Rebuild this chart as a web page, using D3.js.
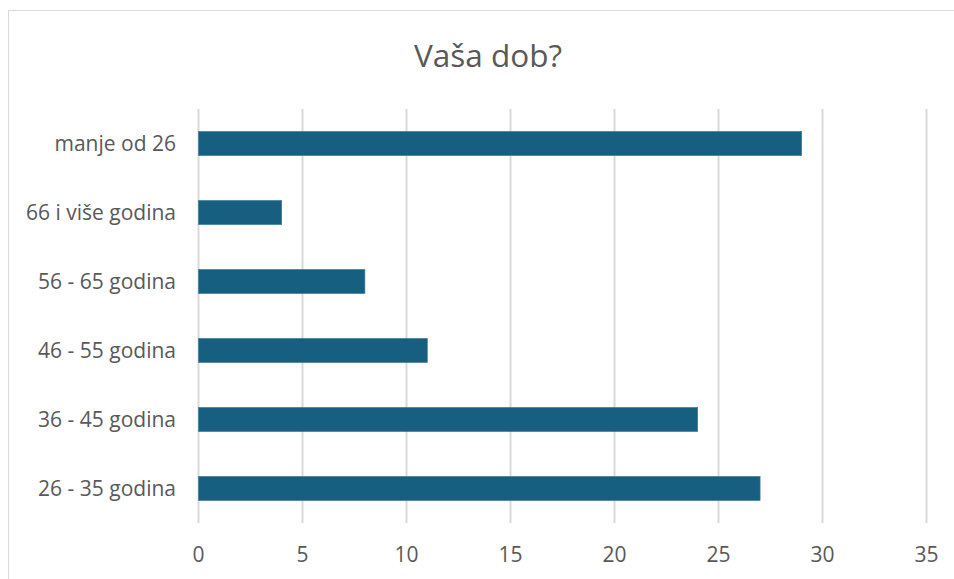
<!DOCTYPE html>
<html><head><meta charset="utf-8">
<script src="https://cdn.jsdelivr.net/npm/d3@7"></script>
<style>body{margin:0;background:#fff}svg{display:block}</style>
</head><body>
<script>
const categories = ["manje od 26","66 i više godina","56 - 65 godina","46 - 55 godina","36 - 45 godina","26 - 35 godina"];
const values = [29,4,8,11,24,27];
const xTicks = [0,5,10,15,20,25,30,35];
const title = "Vaša dob?";

const W=954,H=579;
const svg=d3.select("body").append("svg").attr("width",W).attr("height",H);
svg.append("rect").attr("x",8.5).attr("y",10.5).attr("width",W+10).attr("height",H+10)
  .attr("fill","#fff").attr("stroke","#d9d9d9").attr("stroke-width",1);
const font="'Open Sans', sans-serif";
const m={l:198.5,r:926.5,t:109,b:523};
const x=d3.scaleLinear().domain([0,35]).range([m.l,m.r]);
const y=d3.scaleBand().domain(categories).range([m.t,m.b]).paddingInner(0.65).paddingOuter(0.325);

svg.append("g").selectAll("line").data(xTicks).join("line")
  .attr("x1",d=>x(d)).attr("x2",d=>x(d)).attr("y1",m.t).attr("y2",m.b)
  .attr("stroke","#d9d9d9").attr("stroke-width",2);

svg.append("g").selectAll("rect").data(values).join("rect")
  .attr("x",x(0)).attr("y",(d,i)=>y(categories[i]))
  .attr("width",d=>x(d)-x(0)).attr("height",y.bandwidth())
  .attr("fill","#175f80").attr("stroke","#3d7a96").attr("stroke-width",0.6);

svg.append("g").selectAll("text").data(categories).join("text")
  .attr("x",176).attr("y",d=>y(d)+y.bandwidth()/2).attr("dy","0.35em")
  .attr("text-anchor","end").attr("fill","#595959").attr("font-family",font).attr("font-size",21)
  .text(d=>d);

svg.append("g").selectAll("text").data(xTicks).join("text")
  .attr("x",d=>x(d)).attr("y",555).attr("dy","0.35em")
  .attr("text-anchor","middle").attr("fill","#595959").attr("font-family",font).attr("font-size",21)
  .text(d=>d);

svg.append("text").attr("x",488).attr("y",56).attr("dy","0.35em").attr("text-anchor","middle")
  .attr("fill","#595959").attr("font-family",font).attr("font-size",31.5).text(title);
</script>
</body></html>
